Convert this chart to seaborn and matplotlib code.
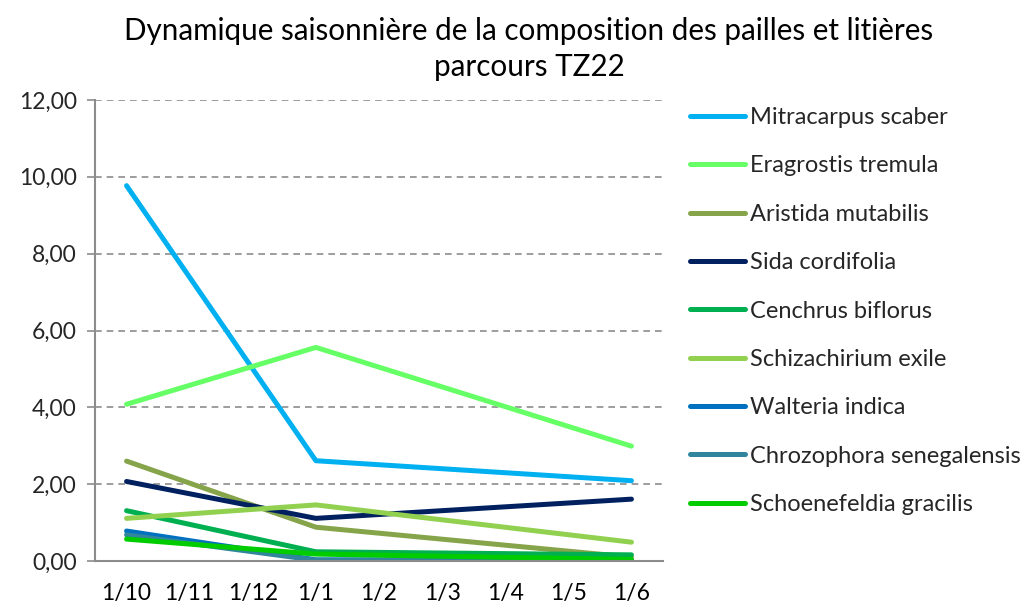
import numpy as np
import pandas as pd
import matplotlib
matplotlib.use("Agg")
import matplotlib.pyplot as plt
import seaborn as sns
from matplotlib.ticker import FuncFormatter, FixedLocator

# ---------------- data ----------------
months = ["1/10", "1/11", "1/12", "1/1", "1/2", "1/3", "1/4", "1/5", "1/6"]
sample_dates = ["1/10", "1/1", "1/6"]
species = ["Mitracarpus scaber", "Eragrostis tremula", "Aristida mutabilis",
           "Sida cordifolia", "Cenchrus biflorus", "Schizachirium exile",
           "Walteria indica", "Chrozophora senegalensis", "Schoenefeldia gracilis"]
mitracarpus = [9.77, 2.61, 2.09]
eragrostis = [4.08, 5.56, 2.99]
aristida = [2.60, 0.88, 0.10]
sida = [2.07, 1.11, 1.61]
cenchrus = [1.31, 0.24, 0.16]
schizachirium = [1.11, 1.46, 0.49]
walteria = [0.78, 0.03, 0.02]
chrozophora = [0.68, 0.02, 0.02]
schoenefeldia = [0.57, 0.18, 0.04]
colors = ["#00B0F0", "#66FF66", "#86A44A", "#002060", "#00B050",
          "#92D050", "#0070C0", "#31859C", "#00CC00"]
yticks = [0, 2, 4, 6, 8, 10, 12]

series = [mitracarpus, eragrostis, aristida, sida, cenchrus,
          schizachirium, walteria, chrozophora, schoenefeldia]
rows = []
for name, vals in zip(species, series):
    for d, v in zip(sample_dates, vals):
        rows.append({"species": name, "date": d, "pos": months.index(d), "value": v})
df = pd.DataFrame(rows)

# ---------------- style ----------------
sns.set_theme(style="white")
plt.rcParams["font.family"] = ["Lato", "DejaVu Sans"]
plt.rcParams["lines.solid_capstyle"] = "round"
plt.rcParams["lines.solid_joinstyle"] = "round"

fig = plt.figure(figsize=(10.33, 6.06), dpi=100)
ax = fig.add_axes([95 / 1033, 1 - 561 / 606, (663 - 95) / 1033, (561 - 100) / 606])

LW = 3.6
sns.lineplot(data=df, x="pos", y="value", hue="species", hue_order=species,
             palette=colors, linewidth=LW, ax=ax, legend=False, sort=False)

ax.set_xlim(-0.5, len(months) - 0.5)
ax.set_ylim(0, 12)
ax.set_xlabel("")
ax.set_ylabel("")

# y axis
ax.yaxis.set_major_locator(FixedLocator(yticks))
ax.yaxis.set_major_formatter(FuncFormatter(lambda v, p: f"{v:.2f}".replace(".", ",")))
ax.grid(axis="y", color="#8C8C8C", linestyle=(0, (4, 3)), linewidth=1.2)
ax.grid(axis="x", visible=False)

# x axis: labels centred between boundary ticks
ax.set_xticks(np.arange(len(months)))
ax.set_xticklabels(months)
ax.set_xticks(np.arange(len(months) + 1) - 0.5, minor=True)
ax.tick_params(axis="x", which="major", length=0, pad=16, labelsize=16.5, colors="black")
ax.tick_params(axis="x", which="minor", length=7, width=1.2, color="#8C8C8C", direction="out")
ax.tick_params(axis="y", which="major", length=6, width=1.2, color="#8C8C8C",
               direction="out", labelsize=16.5, pad=7, left=True)

for s in ["top", "right"]:
    ax.spines[s].set_visible(False)
for s in ["left", "bottom"]:
    ax.spines[s].set_color("#8C8C8C")
    ax.spines[s].set_linewidth(1.5)
ax.set_axisbelow(True)

# title
fig.text(0.512, 0.949, "Dynamique saisonnière de la composition des pailles et litières",
         ha="center", va="center", fontsize=21.3, color="black")
fig.text(0.512, 0.889, "parcours TZ22", ha="center", va="center", fontsize=21.3,
         color="black")

# legend
handles = [plt.Line2D([0], [0], color=c, linewidth=LW) for c in colors]
leg = fig.legend(handles, species, loc="upper left", bbox_to_anchor=(690 / 1033, 1 - 107 / 606),
                 frameon=False, fontsize=17, handlelength=2.33, handletextpad=0.2,
                 labelspacing=1.16, borderaxespad=0, borderpad=0)

fig.savefig("out.png", dpi=100)
